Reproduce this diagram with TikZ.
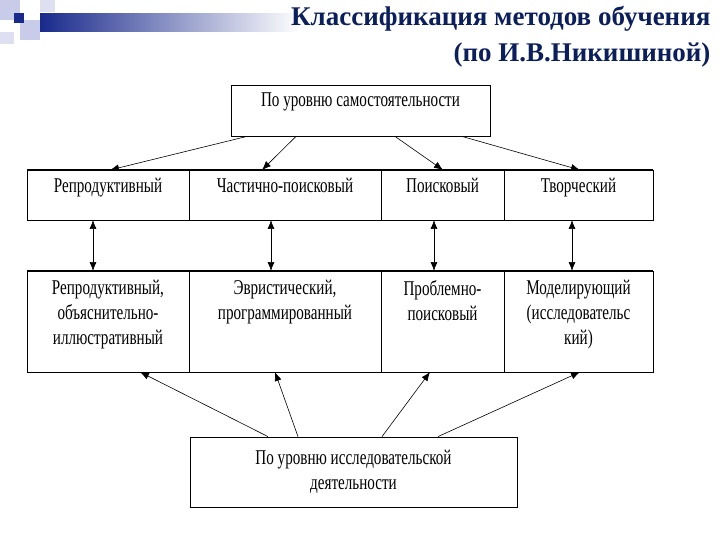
\documentclass[tikz,border=0pt]{standalone}
\usepackage{fontspec}
\setmainfont{Liberation Serif}
\newfontfamily\cond[FakeStretch=0.72]{Liberation Serif}
\usetikzlibrary{arrows.meta}
\definecolor{navy}{HTML}{0B1F5C}
\definecolor{lb}{HTML}{C8CCE8}
\definecolor{db}{HTML}{1A2A8C}
\begin{document}
\begin{tikzpicture}[x=1pt,y=-1pt,
  box/.style={draw,line width=0.8pt,inner sep=0pt},
  txt/.style={font=\cond\fontsize{21}{25}\selectfont,align=center,anchor=north},
  arr/.style={-{Latex[length=9pt,width=7pt]},line width=0.6pt},
  darr/.style={{Latex[length=9pt,width=7pt]}-{Latex[length=9pt,width=7pt]},line width=0.6pt}]
\useasboundingbox[fill=white] (0,0) rectangle (720,540);
% decoration
\fill[lb] (0,0) rectangle (20,20);
\fill[lb] (20,20) rectangle (40,40);
\fill[lb!60] (40,0) rectangle (55,12);
\fill[lb!60] (0,32) rectangle (14,44);
\shade[left color=db,right color=white] (40,14) rectangle (300,32);
\fill[db] (14,13) rectangle (24,23);
% title
\node[anchor=east,font=\fontsize{27}{30}\selectfont\bfseries,text=navy] (t1) at (714,19) {Классификация методов обучения};
\node[anchor=east,font=\fontsize{27}{30}\selectfont\bfseries,text=navy] (t2) at (714,55) {(по И.В.Никишиной)};
% top box
\node[box,minimum width=259pt,minimum height=51pt] (top) at (360.5,110.5) {};
\node[txt] (toptxt) at (360.5,89) {По уровню самостоятельности};
% row 1
\draw[box] (27,170) rectangle (653,220);
\draw[line width=0.8pt] (189,170)--(189,220) (381,170)--(381,220) (504,170)--(504,220);
\draw[line width=1.6pt] (27,170)--(653,170);
\node[txt] (r1a) at (108,175) {Репродуктивный};
\node[txt] (r1b) at (285,175) {Частично-поисковый};
\node[txt] (r1c) at (442.5,175) {Поисковый};
\node[txt] (r1d) at (578.5,175) {Творческий};
% row 2
\draw[box] (27,271) rectangle (653,372);
\draw[line width=0.8pt] (189,271)--(189,372) (381,271)--(381,372) (504,271)--(504,372);
\draw[line width=1.6pt] (27,271)--(653,271);
\node[txt] (r2a) at (108,277) {Репродуктивный,\\объяснительно-\\иллюстративный};
\node[txt] (r2b) at (285,277) {Эвристический,\\программированный};
\node[txt] (r2c) at (442.5,277) {Проблемно-\\поисковый};
\node[txt] (r2d) at (578.5,277) {Моделирующий\\(исследовательс\\кий)};
% bottom box
\node[box,minimum width=327pt,minimum height=70pt] (bot) at (353.5,472) {};
\draw[line width=1.6pt] (bot.south west)--(bot.south east);
\node[txt] (bottxt) at (353.5,447) {По уровню исследовательской\\деятельности};
% coordinates
\coordinate (a1) at (110,170); \coordinate (a2) at (262,170); \coordinate (a3) at (443,170); \coordinate (a4) at (580,170);
\draw[arr] (top.south west -| 247,0) -- (a1);
\draw[arr] (top.south west -| 296,0) -- (a2);
\draw[arr] (top.south west -| 395,0) -- (a3);
\draw[arr] (top.south west -| 462,0) -- (a4);
\coordinate (u1) at (93,220); \coordinate (v1) at (93,271);
\coordinate (u2) at (271,220); \coordinate (v2) at (271,271);
\coordinate (u3) at (434,220); \coordinate (v3) at (434,271);
\coordinate (u4) at (572,220); \coordinate (v4) at (572,271);
\draw[darr] (u1)--(v1); \draw[darr] (u2)--(v2); \draw[darr] (u3)--(v3); \draw[darr] (u4)--(v4);
\coordinate (b1) at (140,372); \coordinate (b2) at (275,372); \coordinate (b3) at (430,372); \coordinate (b4) at (580,372);
\draw[arr] (bot.north west -| 268,0) -- (b1);
\draw[arr] (bot.north west -| 298,0) -- (b2);
\draw[arr] (bot.north west -| 382,0) -- (b3);
\draw[arr] (bot.north west -| 438,0) -- (b4);
\end{tikzpicture}
\end{document}
